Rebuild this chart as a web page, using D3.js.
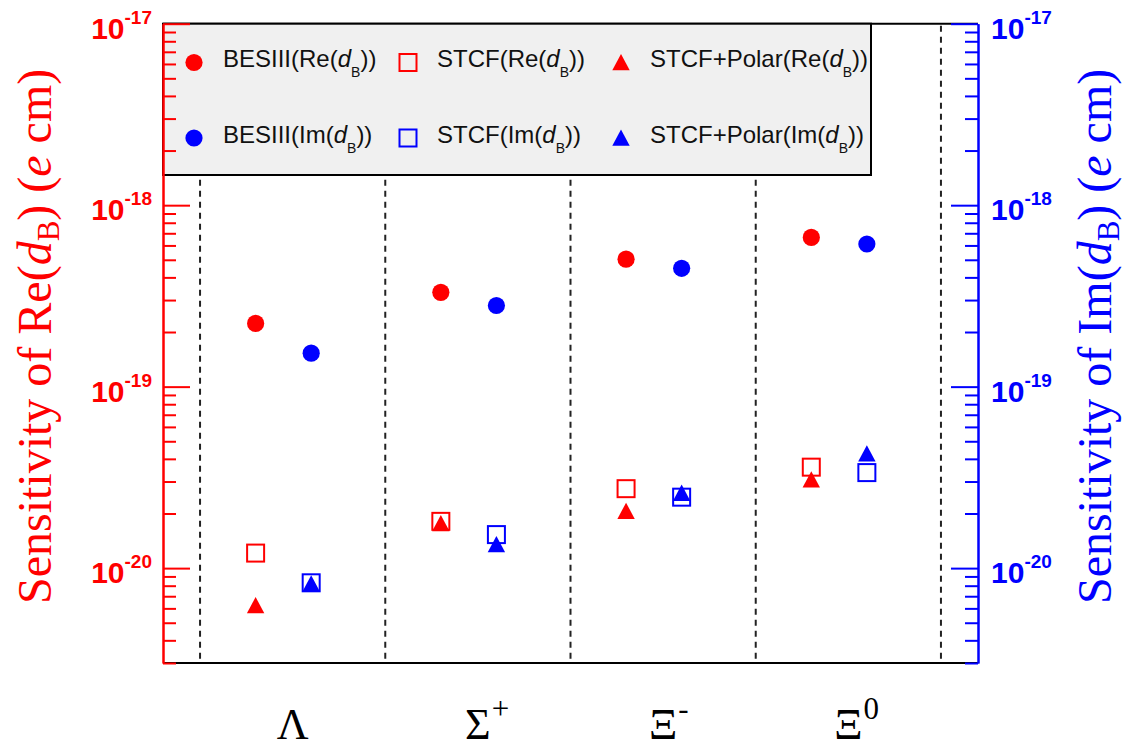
<!DOCTYPE html>
<html>
<head>
<meta charset="utf-8">
<script src="https://cdn.jsdelivr.net/npm/d3@7"></script>
<style>
  html, body { margin: 0; padding: 0; background: #ffffff; }
  svg { display: block; }
  text { white-space: pre; }
</style>
</head>
<body>
<div id="chart"></div>
<script>
// ---------------- data ----------------
const categories = ["Λ", "Σ", "Ξ", "Ξ"];
const categorySup = ["", "+", "-", "0"];
const categoryLabelX = [0.7, 1.7, 2.7, 3.7];
const reX = [0.5, 1.5, 2.5, 3.5];
const imX = [0.8, 1.8, 2.8, 3.8];
const dividerX = [0.2, 1.2, 2.2, 3.2, 4.2];

const besiiiRe = [2.23e-19, 3.31e-19, 5.04e-19, 6.64e-19];
const besiiiIm = [1.53e-19, 2.80e-19, 4.49e-19, 6.11e-19];
const stcfRe = [1.21e-20, 1.81e-20, 2.74e-20, 3.60e-20];
const stcfIm = [8.3e-21, 1.53e-20, 2.46e-20, 3.36e-20];
const polarRe = [6.22e-21, 1.76e-20, 2.06e-20, 3.07e-20];
const polarIm = [8.2e-21, 1.35e-20, 2.59e-20, 4.27e-20];

const yDomain = [3e-21, 1e-17];
const xDomain = [0, 4.4];
const majorExponents = [-20, -19, -18, -17];
const majorLabels = ["-20", "-19", "-18", "-17"];

const legendItems = [
  { sym: "circle", color: "#ff0000", pre: "BESIII(Re(", post: "))" },
  { sym: "square", color: "#ff0000", pre: "STCF(Re(", post: "))" },
  { sym: "triangle", color: "#ff0000", pre: "STCF+Polar(Re(", post: "))" },
  { sym: "circle", color: "#0000ff", pre: "BESIII(Im(", post: "))" },
  { sym: "square", color: "#0000ff", pre: "STCF(Im(", post: "))" },
  { sym: "triangle", color: "#0000ff", pre: "STCF+Polar(Im(", post: "))" }
];

// ---------------- layout ----------------
const W = 1127, H = 748;
const L = 163, R = 978, T = 23.7, B = 663;
const RED = "#ff0000", BLUE = "#0000ff";

const svg = d3.select("#chart").append("svg")
  .attr("width", W).attr("height", H)
  .attr("viewBox", `0 0 ${W} ${H}`);

const x = d3.scaleLinear().domain(xDomain).range([L, R]);
const y = d3.scaleLog().domain(yDomain).range([B, T]);

// dashed separators
svg.append("g").selectAll("line").data(dividerX).join("line")
  .attr("x1", d => x(d)).attr("x2", d => x(d))
  .attr("y1", T + 2).attr("y2", B)
  .attr("stroke", "#222").attr("stroke-width", 2)
  .attr("stroke-dasharray", "6,5");

// frame top / bottom
svg.append("line").attr("x1", L).attr("x2", R).attr("y1", T).attr("y2", T)
  .attr("stroke", "#000").attr("stroke-width", 2);
svg.append("line").attr("x1", L).attr("x2", R).attr("y1", B).attr("y2", B)
  .attr("stroke", "#000").attr("stroke-width", 2);

// legend
const legX0 = L, legX1 = 871, legY0 = T, legY1 = 175;
svg.append("rect")
  .attr("x", legX0).attr("y", legY0)
  .attr("width", legX1 - legX0).attr("height", legY1 - legY0)
  .attr("fill", "#f0f0f0").attr("stroke", "#000").attr("stroke-width", 2);

const markerCols = [194, 408, 621];
const textCols = [223, 437, 650];
const rows = [62.5, 138];

function drawMarker(g, sym, color, cx, cy) {
  if (sym === "circle") {
    g.append("circle").attr("cx", cx).attr("cy", cy).attr("r", 8.6).attr("fill", color);
  } else if (sym === "square") {
    g.append("rect").attr("x", cx - 8.5).attr("y", cy - 8.5)
      .attr("width", 17).attr("height", 17)
      .attr("fill", "none").attr("stroke", color).attr("stroke-width", 2);
  } else {
    g.append("path")
      .attr("d", `M${cx},${cy - 8.5} L${cx + 8.7},${cy + 7.8} L${cx - 8.7},${cy + 7.8} Z`)
      .attr("fill", color);
  }
}

const legG = svg.append("g");
legendItems.forEach((it, i) => {
  const col = i % 3, row = Math.floor(i / 3);
  drawMarker(legG, it.sym, it.color, markerCols[col], rows[row]);
  const t = legG.append("text")
    .attr("x", textCols[col]).attr("y", rows[row] + 4.5)
    .attr("font-family", "Liberation Sans, Arial, Helvetica, sans-serif")
    .attr("font-size", 24).attr("fill", "#111");
  t.append("tspan").text(it.pre);
  t.append("tspan").attr("font-style", "italic").text("d");
  t.append("tspan").attr("font-size", 14).attr("dy", 10).text("B");
  t.append("tspan").attr("dy", -10).text(it.post);
});

// axes
function logTicks(domain) {
  const out = [];
  for (let e = -22; e <= -16; e++) {
    for (let k = 1; k <= 9; k++) {
      const v = k * Math.pow(10, e);
      if (v >= domain[0] * 0.999 && v <= domain[1] * 1.001) out.push(v);
    }
  }
  return out;
}
const allTicks = logTicks(yDomain);
const majors = majorExponents.map(e => Math.pow(10, e));
const minors = allTicks.filter(v => !majors.some(m => Math.abs(v / m - 1) < 1e-6));

function styleAxis(g, color) {
  g.selectAll("path.domain").attr("stroke", color).attr("stroke-width", 2);
  g.selectAll(".tick line").attr("stroke", color).attr("stroke-width", 2);
  g.selectAll(".tick text").remove();
}

const leftMinor = svg.append("g").attr("transform", `translate(${L},0)`)
  .call(d3.axisRight(y).tickValues(minors).tickSize(13).tickSizeOuter(0).tickFormat(""));
styleAxis(leftMinor, RED);
const leftMajor = svg.append("g").attr("transform", `translate(${L},0)`)
  .call(d3.axisRight(y).tickValues(majors).tickSize(27).tickSizeOuter(0).tickFormat(""));
styleAxis(leftMajor, RED);

const rightMinor = svg.append("g").attr("transform", `translate(${R},0)`)
  .call(d3.axisLeft(y).tickValues(minors).tickSize(13).tickSizeOuter(0).tickFormat(""));
styleAxis(rightMinor, BLUE);
const rightMajor = svg.append("g").attr("transform", `translate(${R},0)`)
  .call(d3.axisLeft(y).tickValues(majors).tickSize(27).tickSizeOuter(0).tickFormat(""));
styleAxis(rightMajor, BLUE);

// tick labels
function tickLabel(v, lab, xpos, anchor, color) {
  const t = svg.append("text")
    .attr("x", xpos).attr("y", y(v) + 15)
    .attr("text-anchor", anchor)
    .attr("font-family", "Liberation Sans, Arial, Helvetica, sans-serif")
    .attr("font-weight", "bold").attr("font-size", 30).attr("fill", color);
  t.append("tspan").text("10");
  t.append("tspan").attr("font-size", 19).attr("dy", -15).text(lab);
}
majors.forEach((v, i) => {
  tickLabel(v, majorLabels[i], 152, "end", RED);
  tickLabel(v, majorLabels[i], 991, "start", BLUE);
});

// axis titles
function axisTitle(xBase, part, color) {
  const t = svg.append("text")
    .attr("transform", `translate(${xBase},604) rotate(-90)`)
    .attr("font-family", "Liberation Serif, Times New Roman, serif")
    .attr("font-size", 48).attr("fill", color);
  t.append("tspan").text(`Sensitivity of ${part}(`);
  t.append("tspan").attr("font-style", "italic").text("d");
  t.append("tspan").attr("font-size", 31).attr("dy", 8).text("B");
  t.append("tspan").attr("dy", -8).text(") (");
  t.append("tspan").attr("font-style", "italic").text("e");
  t.append("tspan").text(" cm)");
}
axisTitle(51, "Re", RED);
axisTitle(1111, "Im", BLUE);

// category labels
categories.forEach((c, i) => {
  const cx = x(categoryLabelX[i]);
  const main = svg.append("text")
    .attr("x", cx).attr("y", 739).attr("text-anchor", "middle")
    .attr("font-family", "Liberation Serif, Times New Roman, serif")
    .attr("font-size", 44).attr("fill", "#000").text(c);
  const w = main.node().getComputedTextLength();
  if (categorySup[i]) {
    svg.append("text")
      .attr("x", cx + w / 2 + 1).attr("y", 719)
      .attr("font-family", "Liberation Serif, Times New Roman, serif")
      .attr("font-size", 31).attr("fill", "#000").text(categorySup[i]);
  }
});

// data points
const pts = svg.append("g");
const series = [
  { vals: besiiiRe, xs: reX, sym: "circle", color: RED },
  { vals: besiiiIm, xs: imX, sym: "circle", color: BLUE },
  { vals: stcfRe, xs: reX, sym: "square", color: RED },
  { vals: stcfIm, xs: imX, sym: "square", color: BLUE },
  { vals: polarRe, xs: reX, sym: "triangle", color: RED },
  { vals: polarIm, xs: imX, sym: "triangle", color: BLUE }
];
series.forEach(s => {
  s.vals.forEach((v, i) => drawMarker(pts, s.sym, s.color, x(s.xs[i]), y(v)));
});
</script>
</body>
</html>
